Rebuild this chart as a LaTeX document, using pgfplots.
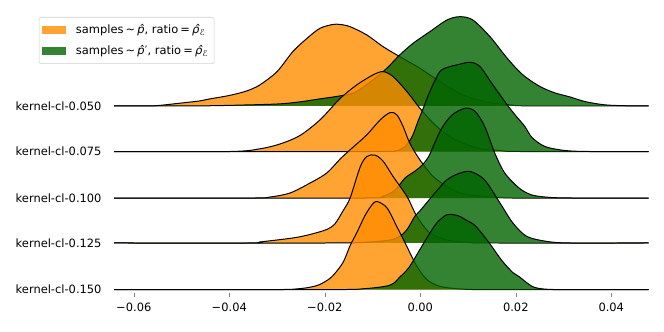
\documentclass[border=0pt]{standalone}
\usepackage{fontspec}
\setmainfont{DejaVu Sans}
\usepackage{pgfplots}
\pgfplotsset{compat=1.18}
\definecolor{dorange}{RGB}{255,140,0}
\definecolor{dgreen}{RGB}{0,100,0}
\pgfplotsset{
  ridgeO/.style={smooth, tension=0.5, draw=black, line width=0.75pt, fill=dorange, fill opacity=0.8, no markers, forget plot},
  ridgeG/.style={smooth, tension=0.5, draw=black, line width=0.75pt, fill=dgreen, fill opacity=0.8, no markers, forget plot},
}
\newcommand{\lsp}{\hspace{1.6pt}}
\begin{document}
\begin{tikzpicture}
\begin{axis}[
  scale only axis, width=401.25pt, height=219.75pt,
  xmin=-0.0641, xmax=0.0478, ymin=-3, ymax=290,
  clip=false,
  axis line style={draw=none},
  scaled x ticks=false,
  xtick={-0.06,-0.04,-0.02,0,0.02,0.04},
  xticklabels={−0.06,−0.04,−0.02,0.00,0.02,0.04},
  xtick pos=bottom, tick align=outside, major tick length=3pt,
  ytick={0,46.7,91.7,138.3,184},
  yticklabels={kernel-cl-0.150,kernel-cl-0.125,kernel-cl-0.100,kernel-cl-0.075,kernel-cl-0.050},
  ytick style={draw=none},
  tick label style={font=\fontsize{8.6}{10}\selectfont},
  xticklabel style={yshift=-1pt},
  yticklabel style={xshift=-3pt},
  legend cell align=left,
  legend image code/.code={\fill[sharp corners,#1,draw=none] (0pt,-3pt) rectangle (18pt,3pt); \path (23pt,0pt);},
  legend style={at={(axis cs:-0.0799,273)}, anchor=north west, draw=black!18, rounded corners=1.5pt,
    font=\fontsize{8.6}{10}\selectfont, row sep=3pt, inner xsep=2.5pt, inner ysep=3.5pt,
    column sep=0pt},
]
% row 1: kernel-cl-0.050 (offset 184)
\addplot[ridgeO] table {
x y
-0.0641 184
-0.0566 184
-0.0545 184.5
-0.0503 186.7
-0.0461 189
-0.0440 191
-0.0399 194.5
-0.0363 199
-0.0336 205
-0.0300 218.3
-0.0267 238.3
-0.0237 251.7
-0.0210 261.7
-0.0183 265.5
-0.0168 265.5
-0.0147 263.3
-0.0112 255
-0.0078 243.3
-0.0043 233.3
-0.0001 221.7
0.0041 208.3
0.0089 195
0.0140 187.7
0.0188 185
0.0230 184
0.0478 184
};
\addplot[ridgeG] table {
x y
-0.0641 184
-0.0461 184
-0.0357 185
-0.0294 186
-0.0252 188
-0.0210 191
-0.0168 194
-0.0137 197.5
-0.0099 210
-0.0070 221.7
-0.0043 235
-0.0015 246.7
0.0020 258.3
0.0056 270
0.0083 273.3
0.0110 270
0.0146 253.3
0.0182 231.7
0.0215 215
0.0251 203.3
0.0282 197
0.0313 193
0.0345 188.3
0.0387 185
0.0439 184
0.0478 184
};
% row 2: kernel-cl-0.075 (offset 138.3)
\addplot[ridgeO] table {
x y
-0.0641 138.3
-0.0399 138.3
-0.0336 141
-0.0294 145.8
-0.0252 154.3
-0.0210 170
-0.0168 191.3
-0.0133 205
-0.0099 215
-0.0078 218.3
-0.0057 213.3
-0.0028 198.3
-0.0001 181.7
0.0027 166.7
0.0056 155
0.0089 146.7
0.0125 141.3
0.0167 139.3
0.0209 138.3
0.0478 138.3
};
\addplot[ridgeG] table {
x y
-0.0641 138.3
-0.0106 138.3
-0.0053 138.8
-0.0032 143.3
-0.0017 153.3
-0.0005 168.3
0.0006 181.3
0.0020 198.3
0.0041 218.3
0.0062 223.3
0.0077 225
0.0104 227.7
0.0125 223.3
0.0152 205
0.0182 185
0.0198 175.3
0.0219 163.3
0.0234 152.3
0.0261 143.3
0.0303 139.3
0.0355 138.3
0.0478 138.3
};
% row 3: kernel-cl-0.100 (offset 91.7)
\addplot[ridgeO] table {
x y
-0.0641 91.7
-0.0357 91.7
-0.0315 92.7
-0.0273 96.7
-0.0231 106.7
-0.0196 116.7
-0.0168 130.7
-0.0147 140
-0.0112 155
-0.0084 170
-0.0063 177.3
-0.0049 175
-0.0036 163.3
-0.0022 146.7
-0.0001 130
0.0027 113.3
0.0056 103.3
0.0083 96.7
0.0125 93.7
0.0167 92.2
0.0209 91.7
0.0478 91.7
};
\addplot[ridgeG] table {
x y
-0.0641 91.7
-0.0126 91.7
-0.0078 93.7
-0.0053 99.7
-0.0032 111.7
-0.0011 118.7
0.0004 124.7
0.0018 133.7
0.0031 147.7
0.0045 161.7
0.0066 174.7
0.0094 181.7
0.0115 178.3
0.0135 163.3
0.0156 136.7
0.0177 116.7
0.0207 101.7
0.0234 94.7
0.0276 92.2
0.0334 91.7
0.0478 91.7
};
% row 4: kernel-cl-0.125 (offset 46.7)
\addplot[ridgeO] table {
x y
-0.0641 46.7
-0.0357 46.7
-0.0336 47.7
-0.0267 51.7
-0.0231 55.2
-0.0196 60.2
-0.0179 65.7
-0.0162 78.7
-0.0147 91.7
-0.0126 122.7
-0.0112 133.3
-0.0095 134.7
-0.0078 128.7
-0.0057 113.3
-0.0028 93.3
-0.0007 73.3
0.0020 56.7
0.0056 49.7
0.0104 47.2
0.0146 46.7
0.0478 46.7
};
\addplot[ridgeG] table {
x y
-0.0641 46.7
-0.0189 46.7
-0.0106 47.7
-0.0063 49.7
-0.0043 53.3
-0.0028 60
-0.0011 73.7
-0.0001 78.7
0.0027 94.7
0.0056 110
0.0083 116.7
0.0104 118.3
0.0125 113.7
0.0140 106.7
0.0167 86.7
0.0194 66.7
0.0223 53.3
0.0265 48.3
0.0313 46.7
0.0478 46.7
};
% row 5: kernel-cl-0.150 (offset 0)
\addplot[ridgeO] table {
x y
-0.0641 0
-0.0315 0
-0.0252 1
-0.0217 4
-0.0196 9
-0.0183 14
-0.0162 27
-0.0147 44
-0.0133 57
-0.0116 74
-0.0101 85
-0.0091 88.3
-0.0070 82
-0.0049 63
-0.0028 43
-0.0007 23.3
0.0014 10
0.0041 3.3
0.0083 0.7
0.0146 0
0.0478 0
};
\addplot[ridgeG] table {
x y
-0.0641 0
-0.0189 0
-0.0116 1
-0.0074 3.3
-0.0057 6
-0.0043 12.5
-0.0024 22
-0.0001 40
0.0018 55
0.0035 67
0.0056 75
0.0079 74
0.0098 69
0.0115 64
0.0144 47
0.0171 29
0.0194 17
0.0207 13
0.0234 3.3
0.0261 0.5
0.0313 0
0.0478 0
};
\addlegendimage{fill=dorange, fill opacity=0.8}
\addlegendentry{samples\lsp∼\lsp\textit{p̂}, ratio\lsp=\lsp\textit{ρ̂}\textsubscript{\textit{ℰ}}}
\addlegendimage{fill=dgreen, fill opacity=0.8}
\addlegendentry{samples\lsp∼\lsp\textit{p̂}′, ratio\lsp=\lsp\textit{ρ̂}\textsubscript{\textit{ℰ}}}
\coordinate (bl) at (axis cs:-0.08802,-42);
\coordinate (tr) at (axis cs:0.05104,290);
\end{axis}
\pgfresetboundingbox
\useasboundingbox (bl) rectangle (tr);
\end{tikzpicture}
\end{document}
